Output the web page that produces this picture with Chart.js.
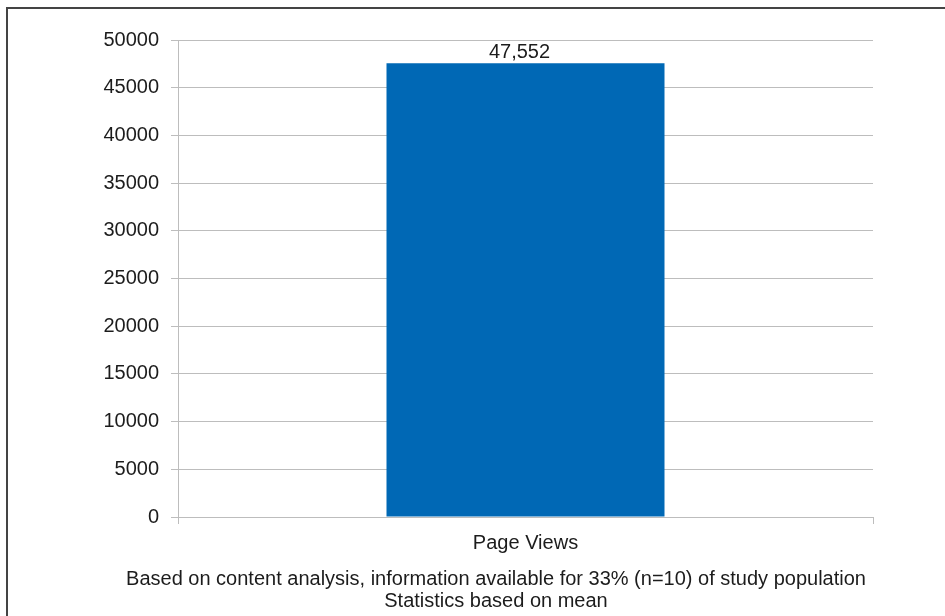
<!DOCTYPE html>
<html>
<head>
<meta charset="utf-8">
<script src="https://cdn.jsdelivr.net/npm/chart.js@4/dist/chart.umd.min.js"></script>
<style>
  html, body { margin: 0; padding: 0; background: #fff; overflow: hidden; }
  #wrap { position: relative; width: 945px; height: 616px; }
  #frame { position: absolute; left: 6px; top: 7px; width: 1000px; height: 700px;
           border-left: 2px solid #444; border-top: 2px solid #444; box-sizing: border-box; }
  canvas { position: absolute; left: 0; top: 0; }
  .cap { position: absolute; left: 0; width: 992px; text-align: center;
         font-family: "Liberation Sans", Arial, sans-serif; font-size: 20px; color: #1c1c1c; line-height: 22px; }
</style>
</head>
<body>
<div id="wrap">
  <div id="frame"></div>
  <canvas id="c" width="945" height="616"></canvas>
  <div class="cap" id="cap1" style="top:567px;"></div>
  <div class="cap" id="cap2" style="top:589px;"></div>
</div>
<script>
const categories = ["Page Views"];
const values = [47552];
const yTicks = [0, 5000, 10000, 15000, 20000, 25000, 30000, 35000, 40000, 45000, 50000];
const captionLines = [
  "Based on content analysis, information available for 33% (n=10) of study population",
  "Statistics based on mean"
];

document.getElementById('cap1').textContent = captionLines[0];
document.getElementById('cap2').textContent = captionLines[1];

const FONT = "'Liberation Sans', Arial, sans-serif";
const TEXT = '#1c1c1c';
const GRID = '#bdbdbd';

const valueLabels = {
  id: 'valueLabels',
  afterDatasetsDraw(chart) {
    const ctx = chart.ctx;
    const meta = chart.getDatasetMeta(0);
    ctx.save();
    ctx.font = '20px ' + FONT;
    ctx.fillStyle = TEXT;
    ctx.textAlign = 'center';
    ctx.textBaseline = 'bottom';
    meta.data.forEach((el, i) => {
      ctx.fillText(values[i].toLocaleString('en-US'), el.x - 6, el.y - 1);
    });
    ctx.restore();
  }
};

new Chart(document.getElementById('c'), {
  type: 'bar',
  data: {
    labels: categories,
    datasets: [{
      data: values,
      backgroundColor: '#0068b5',
      borderWidth: 0,
      categoryPercentage: 0.8,
      barPercentage: 0.5
    }]
  },
  options: {
    responsive: false,
    animation: false,
    devicePixelRatio: 1,
    layout: { padding: { top: 40, right: 72, left: 0, bottom: 0 } },
    plugins: { legend: { display: false }, tooltip: { enabled: false }, title: { display: false } },
    scales: {
      x: {
        afterFit(scale) { scale.height = 99; },
        grid: { display: true, drawOnChartArea: false, drawTicks: true, tickLength: 7, color: GRID, offset: true },
        border: { display: true, color: GRID, width: 1 },
        ticks: { font: { size: 20, family: FONT }, color: TEXT, padding: 7 }
      },
      y: {
        min: 0, max: 50000,
        afterFit(scale) { scale.width = 178; },
        afterBuildTicks(scale) { scale.ticks = yTicks.map(v => ({ value: v })); },
        grid: { color: GRID, lineWidth: 1, tickLength: 7, drawTicks: true },
        border: { display: true, color: GRID, width: 1 },
        ticks: { font: { size: 20, family: FONT }, color: TEXT, padding: 12, callback: v => String(v) }
      }
    }
  },
  plugins: [valueLabels]
});
</script>
</body>
</html>
